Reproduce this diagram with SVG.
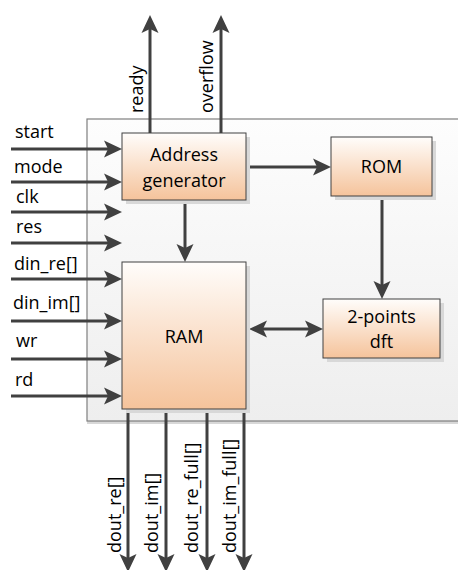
<svg xmlns="http://www.w3.org/2000/svg" width="458" height="570" viewBox="0 0 458 570">
<defs>
<linearGradient id="gNode" x1="0" y1="0" x2="0" y2="1">
<stop offset="0" stop-color="#fffdfb"/>
<stop offset="1" stop-color="#f5c39b"/>
</linearGradient>
<linearGradient id="gOuter" x1="0" y1="0" x2="0" y2="1">
<stop offset="0" stop-color="#fdfdfd"/>
<stop offset="1" stop-color="#eeeeee"/>
</linearGradient>
<marker id="arr" markerUnits="userSpaceOnUse" viewBox="-19 -10 20 20" markerWidth="20" markerHeight="20" refX="-10" refY="0" orient="auto-start-reverse">
<path d="M0,0 L-18,-8.5 L-14,0 L-18,8.5 Z" fill="#404040"/>
</marker>
<style>
.node{fill:url(#gNode);stroke:#404040;stroke-width:1}
.shadow{fill:#d8d8d8}
.t{font-family:"Open Sans","Noto Sans",sans-serif;font-size:18px;fill:#000}
.c{text-anchor:middle}
.w{stroke:#404040;stroke-width:3;fill:none;marker-end:url(#arr)}
.ws{marker-start:url(#arr)}
</style>
</defs>
<g id="outer">
<rect x="87" y="122" width="380" height="302" fill="#d8d8d8"/>
<rect x="87" y="119" width="380" height="302" fill="url(#gOuter)" stroke="#7f7f7f" stroke-width="1.2"/>
</g>
<g id="connectors">
<line class="w" x1="11" y1="149" x2="112" y2="149"/>
<line class="w" x1="11" y1="182" x2="112" y2="182"/>
<line class="w" x1="11" y1="212" x2="112" y2="212"/>
<line class="w" x1="11" y1="243" x2="112" y2="243"/>
<line class="w" x1="11" y1="279" x2="112" y2="279"/>
<line class="w" x1="11" y1="321" x2="112" y2="321"/>
<line class="w" x1="11" y1="359" x2="112" y2="359"/>
<line class="w" x1="11" y1="396" x2="112" y2="396"/>
<line class="w" x1="150" y1="133" x2="150" y2="25"/>
<line class="w" x1="221" y1="133" x2="221" y2="25"/>
<line class="w" x1="246" y1="167" x2="321" y2="167"/>
<line class="w" x1="185" y1="200" x2="185" y2="252"/>
<line class="w" x1="382" y1="196" x2="382" y2="289"/>
<line class="w ws" x1="259" y1="329" x2="313" y2="329"/>
<line class="w" x1="128" y1="409" x2="128" y2="562"/>
<line class="w" x1="166" y1="409" x2="166" y2="562"/>
<line class="w" x1="207" y1="409" x2="207" y2="562"/>
<line class="w" x1="244" y1="409" x2="244" y2="562"/>
</g>
<g id="addr">
<rect class="shadow" x="126" y="137" width="124" height="67"/>
<rect class="node" x="122" y="133" width="124" height="67"/>
<text class="t c" x="184" y="161">Address</text>
<text class="t c" x="184" y="187">generator</text>
</g>
<g id="rom">
<rect class="shadow" x="335" y="141" width="101" height="59"/>
<rect class="node" x="331" y="137" width="101" height="59"/>
<text class="t c" x="381.5" y="173">ROM</text>
</g>
<g id="ram">
<rect class="shadow" x="126" y="266" width="124" height="147"/>
<rect class="node" x="122" y="262" width="124" height="147"/>
<text class="t c" x="184" y="343">RAM</text>
</g>
<g id="dft">
<rect class="shadow" x="327" y="303" width="117" height="59"/>
<rect class="node" x="323" y="299" width="117" height="59"/>
<text class="t c" x="381.5" y="323">2-points</text>
<text class="t c" x="381.5" y="348">dft</text>
</g>
<g id="labels">
<text class="t" x="15" y="138">start</text>
<text class="t" x="14" y="173">mode</text>
<text class="t" x="16" y="203">clk</text>
<text class="t" x="16" y="233">res</text>
<text class="t" x="14" y="270">din_re[]</text>
<text class="t" x="13" y="309">din_im[]</text>
<text class="t" x="16" y="347">wr</text>
<text class="t" x="15" y="386">rd</text>
<text class="t" transform="translate(143,113) rotate(-90)">ready</text>
<text class="t" transform="translate(213,113) rotate(-90)">overflow</text>
<text class="t" transform="translate(121,553) rotate(-90)">dout_re[]</text>
<text class="t" transform="translate(158,553) rotate(-90)">dout_im[]</text>
<text class="t" transform="translate(198,553) rotate(-90)">dout_re_full[]</text>
<text class="t" transform="translate(236,553) rotate(-90)">dout_im_full[]</text>
</g>
</svg>
